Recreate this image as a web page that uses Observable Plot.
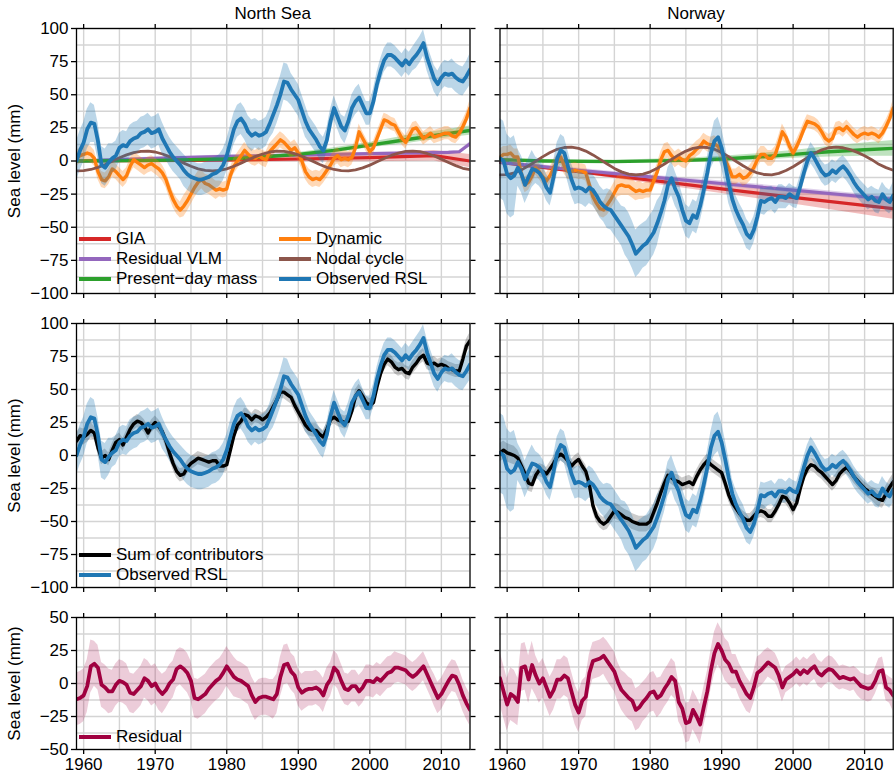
<!DOCTYPE html>
<html><head><meta charset="utf-8">
<script src="https://cdn.jsdelivr.net/npm/d3@7"></script>
<script src="https://cdn.jsdelivr.net/npm/@observablehq/plot@0.6"></script>
<style>
body{margin:0;background:#fff;font-family:"Liberation Sans",Arial,Helvetica,sans-serif;}
#wrap{position:relative;width:894px;height:775px;overflow:hidden;background:#fff;}
.p{position:absolute;}
.p svg{background:transparent !important;max-width:none !important;}
.title{position:absolute;font-size:17px;transform:translate(-50%,-50%);white-space:nowrap;color:#000;}
.row{position:absolute;display:flex;align-items:center;height:20px;font-size:17px;white-space:nowrap;color:#000;}
.sw{width:32px;height:4px;margin-right:5px;flex:none;}
</style></head><body><div id="wrap"></div>
<script>
const FONT = '"Liberation Sans", Arial, Helvetica, sans-serif';
// ---------- time axis: half-year samples 1959.0 .. 2014.0 ----------
const years = d3.range(111).map(i => 1959 + i * 0.5);

// ---------- North Sea ----------
const nsObserved = [
 0, 8, 14, 24, 29, 28, 15, -3, -5, -1,
 2, 4, 10, 12, 11, 15, 17, 18, 21, 22,
 24, 21, 22, 24, 17, 12, 7, 3, 0, -3,
 -7, -10, -12, -13, -14, -14, -13, -12, -10, -9,
 -7, -3, 4, 14, 24, 30, 32, 28, 22, 19,
 21, 19, 20, 22, 28, 35, 42, 50, 60, 59,
 54, 50, 46, 38, 30, 24, 20, 16, 11, 8,
 16, 30, 40, 33, 26, 23, 30, 40, 45, 48,
 42, 36, 36, 45, 58, 68, 76, 80, 80, 78,
 75, 72, 76, 73, 77, 80, 84, 89, 78, 70,
 62, 58, 63, 66, 65, 66, 63, 61, 60, 64,
 69];
const nsDynamic = [
 2, 4, 5, 6, 5, 2, -8, -14, -15, -12,
 -6, -8, -11, -14, -11, -4, 1, -1, -3, -5,
 -3, -2, -4, -6, -9, -14, -22, -29, -34, -37,
 -34, -30, -25, -20, -16, -14, -17, -18, -20, -22,
 -21, -22, -21, -11, -4, 0, 4, 8, 5, 3,
 2, 4, 2, 1, 7, 10, 13, 16, 14, 11,
 8, 10, 6, 0, -8, -12, -14, -13, -14, -11,
 -7, -3, 2, 4, 1, 2, 1, 3, 10, 22,
 17, 12, 7, 10, 17, 24, 31, 30, 28, 27,
 22, 17, 14, 19, 24, 25, 21, 17, 19, 21,
 18, 19, 20, 21, 21, 19, 18, 21, 26, 32,
 40];
const nsSum = [
 11, 15, 14, 16, 19, 17, 6, -2, 0, -3,
 4, 10, 12, 8, 14, 20, 24, 26, 25, 22,
 17, 22, 25, 22, 18, 11, 2, -6, -12, -15,
 -14, -9, -6, -4, -2, -3, -4, -5, -4, -4,
 -8, -8, -7, 4, 15, 23, 26, 31, 30, 27,
 30, 29, 27, 29, 32, 37, 42, 48, 48, 46,
 44, 38, 33, 28, 23, 20, 19, 19, 16, 14,
 20, 27, 29, 27, 26, 25, 26, 34, 45, 49,
 45, 40, 38, 40, 52, 62, 69, 73, 71, 67,
 65, 66, 63, 62, 67, 70, 74, 76, 70, 69,
 70, 68, 69, 68, 66, 65, 64, 64, 73, 83,
 87];
const nsResidual = [
 -12, -11, -9, -2, 13, 15, 12, -1, -3, -6,
 -6, -1, 2, 1, -1, -7, -8, -5, -2, 4,
 2, -2, 0, -5, -8, -5, 0, 3, 11, 13,
 11, 8, 2, -11, -12, -10, -8, -4, -1, 2,
 4, 8, 13, 9, 5, 3, 2, 0, -2, -9,
 -14, -11, -10, -10, -11, -12, -8, 5, 14, 15,
 9, 6, -3, -7, -5, -4, -4, -3, -5, -9,
 -1, 3, 12, 9, 2, -4, -5, -2, -2, -6,
 -3, 2, 2, 1, 4, 2, 5, 8, 9, 12,
 12, 11, 10, 7, 5, 7, 10, 13, 7, 1,
 -5, -11, -8, -3, 2, 6, 5, -1, -9, -15,
 -20];
// uncertainty half-widths per 2.5-year bin (1959, 1961.5, ... 2014)
const nsObservedUnc = [15, 14, 11, 12, 12, 11, 12, 12, 12, 12, 11, 14, 12, 10, 9, 10, 9, 9, 9, 10, 10, 11, 12];
const nsDynamicUnc  = [6, 6, 6, 6, 6, 6, 8, 7, 6, 6, 6, 6, 6, 6, 6, 6, 5, 5, 5, 5, 5, 5, 6];
const nsSumUnc      = [6, 5, 5, 5, 5, 5, 5, 5, 5, 5, 5, 5, 5, 5, 5, 5, 5, 5, 5, 5, 5, 5, 6];
const nsResidualUnc = [20, 17, 16, 15, 15, 14, 15, 15, 15, 14, 14, 15, 14, 13, 13, 12, 12, 12, 11, 11, 12, 12, 12];

const nsGiaYears = [1959, 1975, 1990, 2000, 2009, 2014];
const nsGia      = [0, 0.5, 1.5, 2.5, 4, 0];
const nsGiaUnc   = [1, 1.5, 2, 3, 4, 5];
const nsVlmYears = [1959, 1970, 1980, 1990, 2000, 2011, 2012.5, 2014];
const nsVlm      = [0, 2, 3.5, 4.5, 5.5, 6.5, 7, 13];
const nsVlmUnc   = [1, 1, 1, 1, 1, 1, 1, 1.5];
const nsMassYears = [1959, 1970, 1980, 1985, 1990, 1995, 2000, 2005, 2010, 2014];
const nsMass      = [0, 0.5, 1.5, 3, 5, 8, 12, 16, 20, 23];
const nsMassUnc   = [0.5, 0.5, 1, 1, 1.5, 2, 2, 3, 3, 3.5];
const nodalYears = d3.range(1959, 2015);
const nsNodal = [-7.4, -7.3, -6.4, -4.8, -2.6, -0.1, 2.4, 4.6, 6.3, 7.3, 7.5, 6.8, 5.3, 3.3, 0.9, -1.6, -4.0, -5.9, -7.1, -7.5,
 -7.1, -5.9, -4.0, -1.6, 0.9, 3.3, 5.3, 6.8, 7.5, 7.3, 6.3, 4.6, 2.4, -0.1, -2.6, -4.8, -6.4, -7.3, -7.4, -6.7,
 -5.2, -3.1, -0.6, 1.9, 4.2, 6.0, 7.2, 7.5, 7.0, 5.7, 3.8, 1.4, -1.1, -3.5, -5.5, -6.6];

// ---------- Norway ----------
const noObserved = [
 2, 0, -10, -13, -11, -5, -10, -18, -12, -6,
 -7, -9, -13, -20, -24, -12, 2, 8, 6, -4,
 -14, -21, -20, -21, -23, -20, -22, -26, -31, -34,
 -36, -37, -41, -45, -49, -53, -57, -63, -70, -67,
 -64, -62, -58, -54, -47, -39, -30, -18, -13, -21,
 -27, -37, -45, -47, -41, -43, -34, -22, -9, 6,
 15, 18, 10, -3, -17, -29, -37, -43, -48, -55,
 -58, -52, -42, -30, -31, -29, -28, -31, -27, -27,
 -28, -25, -27, -28, -19, -9, 0, 6, 2, -3,
 -8, -11, -10, -7, -9, -6, -4, -7, -11, -16,
 -20, -23, -26, -29, -27, -30, -31, -25, -29, -31,
 -26];
const noDynamic = [
 3, 5, 5, 6, 3, 3, -10, -18, -16, -11,
 -5, -8, -12, -15, -11, -5, -1, 3, -4, -8,
 -8, -7, -8, -8, -9, -18, -27, -32, -36, -37,
 -33, -29, -24, -19, -18, -19, -19, -21, -23, -22,
 -23, -22, -22, -15, -8, 1, 7, 8, 4, 1,
 3, 1, 0, 4, 6, 9, 11, 15, 13, 12,
 13, 11, 6, 1, -5, -12, -12, -10, -13, -12,
 -9, -5, 1, 5, 5, 2, 2, 5, 13, 22,
 18, 11, 6, 11, 17, 24, 30, 29, 28, 26,
 22, 17, 15, 17, 24, 25, 23, 26, 23, 20,
 18, 20, 21, 20, 21, 20, 18, 21, 26, 32,
 40];
const noSum = [
 2, 4, 2, 1, 0, -2, -8, -14, -21, -22,
 -15, -11, -12, -14, -10, -6, -1, 1, -1, -4,
 -8, -5, -3, -8, -12, -22, -38, -46, -50, -52,
 -50, -46, -42, -43, -45, -47, -48, -50, -51, -52,
 -52, -52, -50, -43, -36, -28, -21, -15, -17, -19,
 -20, -22, -21, -20, -22, -16, -11, -7, -4, -7,
 -9, -11, -13, -21, -30, -36, -40, -44, -47, -49,
 -49, -46, -43, -42, -43, -46, -46, -42, -37, -31,
 -32, -36, -41, -36, -25, -16, -10, -7, -8, -11,
 -13, -16, -19, -22, -19, -14, -11, -9, -12, -16,
 -19, -22, -25, -27, -29, -31, -33, -34, -29, -24,
 -20];
const noResidual = [
 4, -6, -16, -8, -10, -14, 12, 13, 3, 14,
 6, 0, 4, -3, -10, -5, 3, 3, 6, 4,
 -6, -16, -22, -13, -10, 8, 17, 18, 19, 21,
 17, 13, 9, 1, -5, -8, -11, -13, -20, -18,
 -14, -11, -7, -6, -11, -9, -4, 0, 5, 2,
 -14, -19, -30, -29, -20, -25, -31, -18, -6, 10,
 23, 30, 25, 18, 15, 9, 9, 2, -3, -8,
 -11, -3, 8, 10, 13, 16, 14, 12, 6, -3,
 3, 5, 7, 10, 7, 10, 8, 11, 13, 8,
 6, 9, 11, 10, 7, 4, 5, 4, 3, 4,
 1, -2, -3, -4, -3, 2, 9, 10, -3, -5,
 -9];
const noObservedUnc = [30, 14, 10, 12, 12, 12, 15, 18, 17, 13, 12, 12, 15, 11, 10, 9, 8, 8, 8, 8, 8, 9, 10];
const noDynamicUnc  = [6, 6, 6, 6, 6, 6, 8, 7, 6, 6, 6, 6, 6, 6, 6, 6, 5, 5, 5, 5, 5, 5, 6];
const noSumUnc      = [7, 6, 5, 5, 5, 5, 6, 6, 6, 5, 5, 5, 5, 5, 5, 5, 5, 5, 5, 5, 5, 6, 6];
const noResidualUnc = [20, 18, 15, 15, 15, 14, 15, 16, 15, 14, 15, 15, 16, 13, 12, 11, 10, 10, 10, 9, 10, 10, 12];

const noGiaYears = [1959, 1970, 1980, 1990, 2000, 2014];
const noGia      = [-1, -8, -14.5, -21, -27.5, -36];
const noGiaUnc   = [1, 1.5, 2.5, 3.5, 5, 8];
const noVlmYears = [1959, 1970, 1980, 1990, 2000, 2010, 2014];
const noVlm      = [-1, -7, -12, -17, -22, -27, -29];
const noVlmUnc   = [1, 1.5, 1.5, 2, 2, 2, 2];
const noMassYears = [1959, 1965, 1975, 1985, 1990, 1995, 2000, 2005, 2010, 2014];
const noMass      = [1, 0, -0.5, 0.5, 1.5, 3, 5, 7, 8.5, 9.5];
const noMassUnc   = [1, 1, 1, 1.5, 2, 2.5, 3, 4, 5, 6];
const noNodal = [-10.4, -10.3, -9.0, -6.7, -3.6, -0.2, 3.3, 6.4, 8.8, 10.2, 10.4, 9.5, 7.5, 4.6, 1.2, -2.3, -5.6, -8.2, -9.9, -10.5,
 -9.9, -8.2, -5.5, -2.3, 1.2, 4.6, 7.5, 9.5, 10.4, 10.2, 8.8, 6.4, 3.3, -0.2, -3.6, -6.7, -9.0, -10.2, -10.4, -9.3,
 -7.2, -4.3, -0.9, 2.6, 5.9, 8.4, 10.0, 10.5, 10.0, 8.6, 6.5, 4.0, 1.0, -2.5, -5.0, -7.0];

// ---------- colours ----------
const C = {gia: "#d62728", vlm: "#9467bd", mass: "#2ca02c", dyn: "#ff7f0e", nodal: "#8c564b", obs: "#1f77b4", sum: "#000000", res: "#a00040"};

// ---------- helpers ----------
function series(vals, unc) {
  return vals.map((v, i) => {
    const t = years[i];
    const h = unc[Math.min(unc.length - 1, Math.floor((t - 1959) / 2.5 + 1e-9))];
    return {t, v, lo: v - h, hi: v + h};
  });
}
function smooth(ts, vals, unc) {
  return ts.map((t, i) => ({t, v: vals[i], lo: vals[i] - (unc ? unc[i] : 0), hi: vals[i] + (unc ? unc[i] : 0)}));
}
const band = (d, color, op) => Plot.areaY(d, {x: "t", y1: "lo", y2: "hi", fill: color, fillOpacity: op, clip: true});
const line = (d, color, w) => Plot.lineY(d, {x: "t", y: "v", stroke: color, strokeWidth: w, clip: true, strokeLinejoin: "round"});
const fmtY = d => d < 0 ? "\u2212" + Math.abs(d) : String(d);

function panel(o) {
  const [y0, y1] = o.yDomain;
  const yTicks = d3.range(y0, y1 + 0.1, 25);
  return Plot.plot({
    width: o.width, height: o.height,
    marginLeft: o.ml, marginRight: o.mr, marginTop: o.mt, marginBottom: o.mb,
    style: {fontFamily: FONT, fontSize: "17px", color: "black", background: "transparent", overflow: "visible"},
    x: {domain: [1959, 2014], label: null},
    y: {domain: o.yDomain, label: null},
    marks: [
      Plot.gridX(d3.range(1960, 2015, 5), {stroke: "#d4d4d4", strokeOpacity: 1, strokeWidth: 1.4}),
      Plot.gridY(d3.range(y0, y1 + 0.1, 12.5), {stroke: "#d4d4d4", strokeOpacity: 1, strokeWidth: 1.4}),
      ...o.marks,
      Plot.frame({stroke: "black", strokeWidth: 1.3}),
      Plot.axisX(d3.range(1960, 2011, 10), {anchor: "bottom", tickSize: 5, tickPadding: 3, strokeWidth: 1.3,
        tickFormat: o.xLabels ? (d => String(d)) : (() => ""), label: null}),
      Plot.axisX(d3.range(1960, 2011, 10), {anchor: "top", tickSize: 5, strokeWidth: 1.3, tickFormat: () => "", label: null}),
      Plot.axisY(yTicks, {anchor: "left", tickSize: 5, tickPadding: 3, strokeWidth: 1.3,
        tickFormat: o.yLabels ? fmtY : (() => ""),
        label: o.yLabels ? "Sea level (mm)" : null, labelAnchor: "center", labelOffset: 69, labelArrow: "none"}),
      Plot.axisY(yTicks, {anchor: "right", tickSize: 5, strokeWidth: 1.3, tickFormat: () => "", label: null})
    ]
  });
}

function topMarks(g) {
  return [
    band(g.gia, C.gia, 0.3), line(g.gia, C.gia, 3.2),
    band(g.vlm, C.vlm, 0.3), line(g.vlm, C.vlm, 3.2),
    band(g.mass, C.mass, 0.3), line(g.mass, C.mass, 3.4),
    band(g.dyn, C.dyn, 0.3), line(g.dyn, C.dyn, 3.4),
    line(g.nodal, C.nodal, 2.8),
    band(g.obs, C.obs, 0.3), line(g.obs, C.obs, 3.8)
  ];
}
function midMarks(g) {
  return [
    band(g.sum, C.sum, 0.2),
    band(g.obs, C.obs, 0.3),
    line(g.sum, C.sum, 3.4),
    line(g.obs, C.obs, 3.8)
  ];
}
function botMarks(d) {
  return [band(d, C.res, 0.2), line(d, C.res, 3.8)];
}

const NS = {
  gia: smooth(nsGiaYears, nsGia, nsGiaUnc), vlm: smooth(nsVlmYears, nsVlm, nsVlmUnc),
  mass: smooth(nsMassYears, nsMass, nsMassUnc), nodal: smooth(nodalYears, nsNodal),
  dyn: series(nsDynamic, nsDynamicUnc), obs: series(nsObserved, nsObservedUnc),
  sum: series(nsSum, nsSumUnc), res: series(nsResidual, nsResidualUnc)
};
const NO = {
  gia: smooth(noGiaYears, noGia, noGiaUnc), vlm: smooth(noVlmYears, noVlm, noVlmUnc),
  mass: smooth(noMassYears, noMass, noMassUnc), nodal: smooth(nodalYears, noNodal),
  dyn: series(noDynamic, noDynamicUnc), obs: series(noObserved, noObservedUnc),
  sum: series(noSum, noSumUnc), res: series(noResidual, noResidualUnc)
};

const wrap = document.getElementById("wrap");
const cols = [
  {left: 0, width: 480, ml: 76, mr: 10.5, yLabels: true, g: NS},
  {left: 490, width: 404, ml: 9.5, mr: 1.3, yLabels: false, g: NO}
];
const rowsDef = [
  {top: 0, height: 303, mt: 28, mb: 10, yDomain: [-100, 100], marks: g => topMarks(g), xLabels: false},
  {top: 300, height: 297, mt: 23, mb: 10, yDomain: [-100, 100], marks: g => midMarks(g), xLabels: false},
  {top: 600, height: 175, mt: 17, mb: 26, yDomain: [-50, 50], marks: g => botMarks(g.res), xLabels: true}
];
for (const r of rowsDef) for (const c of cols) {
  const div = document.createElement("div");
  div.className = "p";
  div.style.left = c.left + "px"; div.style.top = r.top + "px";
  div.style.width = c.width + "px"; div.style.height = r.height + "px";
  div.appendChild(panel({width: c.width, height: r.height, ml: c.ml, mr: c.mr, mt: r.mt, mb: r.mb,
    yDomain: r.yDomain, marks: r.marks(c.g), xLabels: r.xLabels, yLabels: c.yLabels}));
  wrap.appendChild(div);
}

// ---------- titles ----------
const titles = [{text: "North Sea", x: 272.7}, {text: "Norway", x: 696}];
for (const t of titles) {
  const d = document.createElement("div");
  d.className = "title"; d.textContent = t.text;
  d.style.left = t.x + "px"; d.style.top = "14px";
  wrap.appendChild(d);
}

// ---------- legends ----------
const legendItems = [
  {label: "GIA", color: C.gia, x: 79, y: 239},
  {label: "Residual VLM", color: C.vlm, x: 79, y: 259},
  {label: "Present\u2212day mass", color: C.mass, x: 79, y: 279},
  {label: "Dynamic", color: C.dyn, x: 279, y: 239},
  {label: "Nodal cycle", color: C.nodal, x: 279, y: 259},
  {label: "Observed RSL", color: C.obs, x: 279, y: 279},
  {label: "Sum of contributors", color: C.sum, x: 79, y: 555},
  {label: "Observed RSL", color: C.obs, x: 79, y: 575},
  {label: "Residual", color: C.res, x: 79, y: 737}
];
for (const it of legendItems) {
  const d = document.createElement("div");
  d.className = "row";
  d.style.left = it.x + "px"; d.style.top = (it.y - 10) + "px";
  const s = document.createElement("span"); s.className = "sw"; s.style.background = it.color;
  const tx = document.createElement("span"); tx.textContent = it.label;
  d.appendChild(s); d.appendChild(tx);
  wrap.appendChild(d);
}
</script>
</body></html>
